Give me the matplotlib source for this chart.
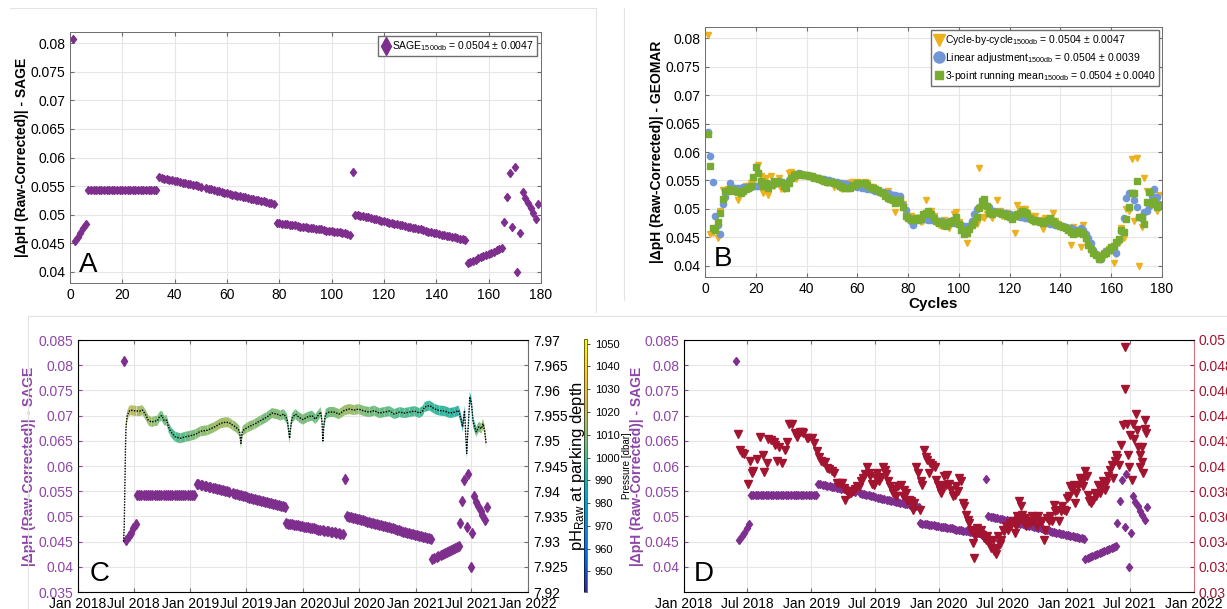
import numpy as np
import matplotlib.pyplot as plt
import matplotlib.dates as mdates
from matplotlib.collections import PolyCollection
from matplotlib.colors import LinearSegmentedColormap, Normalize
from matplotlib.cm import ScalarMappable
from matplotlib.lines import Line2D
from matplotlib.ticker import FuncFormatter

plt.rcParams['font.family'] = ['Liberation Sans', 'DejaVu Sans']
plt.rcParams['mathtext.fontset'] = 'custom'
plt.rcParams['mathtext.rm'] = 'Liberation Sans'
plt.rcParams['mathtext.it'] = 'Liberation Sans:italic'
plt.rcParams['mathtext.bf'] = 'Liberation Sans:bold'

# ---- data ------------------------------------------------------------
cycles = np.arange(1, 180)

# days since 2018-01-01 of each profile (cycle)
cycle_day = [150, 157, 165, 172, 180, 187,
             191, 198, 205, 213, 220, 227, 234, 241, 249, 256, 263, 270, 278, 285, 292, 299, 306, 314,
             321, 328, 335, 342, 349, 357, 364, 371, 378,
             385, 391, 398, 404, 411, 417, 424, 430, 437, 444, 450, 457, 463, 470, 476, 483, 489, 496,
             503, 509, 516, 522, 529, 535, 542, 548, 555, 561, 568, 574, 581, 588, 594, 601, 607, 614,
             620, 627, 633, 640, 647, 653, 660, 666, 673,
             676, 683, 689, 696, 702, 709, 715, 722, 728, 735, 741, 748, 754, 761, 767, 774, 780, 787,
             794, 800, 807, 813, 820, 826, 833, 839, 846, 852, 859,
             866,
             872, 879, 885, 892, 898, 905, 911, 918, 924, 931, 937, 944, 950, 957, 963, 970, 976, 983,
             989, 996, 1002, 1009, 1015, 1022, 1028, 1035, 1041, 1048, 1054, 1061, 1067, 1074, 1080,
             1087, 1093, 1100, 1106, 1113, 1119, 1126, 1132, 1139, 1145,
             1150, 1157, 1164, 1170, 1177, 1184, 1191, 1198, 1204, 1211, 1218, 1225, 1231, 1238,
             1240, 1248, 1254, 1262, 1266, 1275, 1280, 1287, 1293, 1300, 1307, 1313, 1320, 1327]

# |dpH| SAGE, units of 1e-4
sage = [808, 453, 461, 468, 476, 484,
        543, 543, 543, 543, 543, 543, 543, 543, 543, 543, 543, 543, 543, 543, 543, 543, 543, 543,
        543, 543, 543, 543, 543, 543, 543, 543, 543,
        565, 564, 563, 562, 561, 560, 559, 558, 557, 556, 555, 554, 553, 552, 551, 550, 549, np.nan,
        546, 545, 544, 543, 542, 541, 540, 538, 537, 536, 535, 534, 533, 532, 531, 530, 529, 528,
        527, 526, 525, 524, 523, 522, 521, 520, 518,
        486, 485, 484, 484, 483, 482, 482, 481, 480, 479, 479, 478, 477, 477, 476, 475, 474, 474,
        473, 472, 472, 471, 470, 469, 469, 468, 467, 466, 465,
        574,
        500, 499, 498, 497, 496, 495, 494, 493, 492, 491, 489, 488, 487, 486, 485, 484, 483, 482,
        481, 480, 479, 478, 477, 476, 475, 474, 473, 471, 470, 469, 468, 467, 466, 465, 464, 463,
        462, 461, 460, 459, 458, 457, 455,
        415, 417, 419, 421, 423, 425, 427, 429, 431, 433, 435, 437, 439, 441,
        487, 530, 572, 478, 584, 400, 467, 540, 529, 521, 511, 502, 493, 519]

# GEOMAR methods, units of 1e-4
cycle_by_cycle = [806, 456, 458, 465, 449, 496, 533, 530, 534, 540,
                  536, 530, 516, 528, 536, 540, 541, 545, 548, 574,
                  577, 557, 527, 555, 525, 557, 541, 546, 555, 535,
                  535, 541, 563, 565, 555, 553, 560, 561, 560, 558,
                  557, 556, 555, 554, 552, 550, 548, 546, 547, 545,
                  539, 541, 537, 535, 540, 545, 545, 548, 546, 548,
                  546, 543, 548, 545, 537, 538, 535, 531, 527, 524,
                  525, 531, 515, 516, 494, 512, 519, 508, 485, 480,
                  487, 473, 478, 484, 476, 478, 516, 485, 496, 487,
                  475, 472, 470, 480, 470, 466, 478, 490, 494, 476,
                  470, 465, 440, 468, 470, 474, 473, 572, 485, 483,
                  490, 493, 483, 494, 516, 496, 487, 493, 492, 485,
                  488, 458, 507, 497, 499, 499, 492, 487, 476, 488,
                  479, 481, 465, 483, 482, 480, 493, 478, 473, 470,
                  468, 466, 463, 437, 468, 463, 457, 432, 472, 444,
                  434, 428, 423, 418, 413, 418, 422, 425, 430, 426,
                  404, 421, 440, 466, 448, 500, 497, 588, 478, 589,
                  400, 468, 555, 532, 502, 521, 512, 496, 524]
linear_adj = [636, 593, 548, 488, 471, 456, 508, 521, 532, 546,
              536, 536, 537, 537, 538, 538, 539, 539, 540, 540,
              541, 541, 542, 542, 543, 543, 544, 548, 549, 547,
              543, 546, 550, 554, 557, 560, 563, 561, 560, 559,
              558, 557, 556, 555, 554, 553, 552, 551, 550, 549,
              548, 547, 546, 545, 544, 543, 542, 541, 540, 539,
              538, 537, 536, 535, 534, 533, 532, 531, 530, 529,
              528, 527, 526, 525, 524, 523, 522, 506, 498, 485,
              478, 471, 484, 483, 483, 482, 482, 481, 480, 480,
              479, 479, 478, 477, 477, 476, 476, 475, 475, 474,
              472, 470, 469, 470, 479, 490, 499, 504, 507, 506,
              505, 503, 497, 496, 495, 494, 493, 492, 491, 490,
              489, 488, 487, 486, 485, 484, 483, 482, 481, 480,
              479, 478, 477, 476, 475, 474, 473, 472, 471, 470,
              469, 468, 467, 466, 465, 462, 463, 466, 462, 456,
              448, 440, 428, 420, 411, 411, 422, 425, 427, 430,
              432, 422, 445, 461, 483, 519, 528, 527, 515, 504,
              485, 483, 494, 496, 505, 522, 535, 520, 508]
running_mean = [632, 575, 467, 463, 476, 493, 518, 531, 532, 535,
                533, 531, 530, 528, 532, 534, 536, 540, 556, 574,
                563, 549, 540, 545, 537, 542, 549, 546, 548, 548,
                540, 537, 545, 555, 559, 561, 562, 559, 560, 559,
                557, 557, 555, 554, 553, 551, 549, 548, 548, 547,
                545, 543, 541, 539, 537, 536, 537, 540, 542, 545,
                545, 546, 546, 542, 539, 537, 535, 533, 530, 528,
                522, 519, 518, 516, 510, 512, 515, 504, 488, 483,
                482, 480, 483, 481, 484, 490, 493, 496, 490, 484,
                478, 475, 476, 472, 470, 475, 478, 481, 485, 474,
                462, 455, 457, 465, 472, 476, 485, 502, 514, 517,
                505, 493, 491, 494, 495, 493, 491, 490, 487, 485,
                482, 487, 491, 493, 497, 494, 490, 484, 481, 479,
                478, 477, 475, 479, 481, 483, 478, 475, 472, 470,
                468, 466, 463, 460, 456, 458, 461, 460, 456, 448,
                437, 430, 423, 418, 412, 416, 420, 423, 427, 433,
                435, 442, 447, 462, 459, 482, 503, 528, 528, 549,
                486, 486, 473, 512, 530, 509, 513, 503, 507]

# pH raw at parking depth (days since 2018-01-01, pH, pressure dbar)
ph_day = [148, 150, 152, 154, 156, 160, 165, 170, 179, 190, 201, 209, 215, 221, 228, 239, 248, 258,
          264, 272, 280, 288, 294, 300, 305, 316, 332, 349, 365, 382, 398, 420, 442, 464, 480, 491,
          502, 513, 524, 527, 529, 532, 535, 551, 573, 592, 613, 630, 646, 657, 668, 679, 684, 687,
          690, 695, 706, 717, 730, 744, 760, 771, 783, 788, 792, 795, 798, 804, 815, 831, 848, 864,
          880, 897, 911, 929, 946, 962, 978, 995, 1011, 1027, 1044, 1060, 1076, 1093, 1109, 1120,
          1125, 1142, 1158, 1174, 1191, 1207, 1223, 1236, 1243, 1249, 1255, 1259, 1262, 1265, 1268,
          1272, 1277, 1283, 1293, 1302, 1310, 1315, 1320, 1325]
ph_val = [7.9300, 7.9330, 7.9400, 7.9480, 7.9530, 7.9550, 7.9558, 7.9561, 7.9560, 7.9559, 7.9559,
          7.9561, 7.9556, 7.9550, 7.9541, 7.9537, 7.9539, 7.9540, 7.9547, 7.9550, 7.9540, 7.9541,
          7.9527, 7.9520, 7.9515, 7.9508, 7.9505, 7.9508, 7.9510, 7.9513, 7.9519, 7.9521, 7.9527,
          7.9535, 7.9537, 7.9536, 7.9531, 7.9527, 7.9520, 7.9505, 7.9495, 7.9512, 7.9520, 7.9527,
          7.9533, 7.9540, 7.9547, 7.9555, 7.9553, 7.9550, 7.9553, 7.9543, 7.9520, 7.9505, 7.9525,
          7.9545, 7.9553, 7.9547, 7.9542, 7.9547, 7.9550, 7.9543, 7.9553, 7.9557, 7.9540, 7.9500,
          7.9530, 7.9553, 7.9557, 7.9557, 7.9553, 7.9560, 7.9563, 7.9561, 7.9563, 7.9559, 7.9557,
          7.9560, 7.9555, 7.9557, 7.9559, 7.9553, 7.9557, 7.9555, 7.9557, 7.9559, 7.9555, 7.9560,
          7.9567, 7.9570, 7.9563, 7.9560, 7.9559, 7.9555, 7.9557, 7.9560, 7.9544, 7.9528, 7.9560,
          7.9510, 7.9475, 7.9510, 7.9540, 7.9587, 7.9577, 7.9537, 7.9518, 7.9528, 7.9524, 7.9534,
          7.9521, 7.9495]
ph_pres = [995, 1008, 1012, 1015, 1015, 1016, 1018, 1018, 1018, 1016, 1015, 1015, 1012, 1010, 1012,
           1014, 1010, 1008,
           1006, 1004, 1006, 1006, 1004, 1000, 1000, 1000, 1002, 1004, 1006, 1008, 1010, 1010, 1012,
           1014, 1014, 1014,
           1012, 1010, 1010, 1006, 1006, 1008, 1010, 1010, 1010, 1008, 1006, 1008, 1010, 1008, 1006,
           1004, 1002, 1004,
           1004, 1006, 1006, 1006, 1008, 1006, 1006, 1004, 1006, 1008, 1002, 1000, 1002, 1004, 1006,
           1008, 1010, 1012,
           1014, 1012, 1010, 1008, 1006, 1006, 1004, 1004, 1004, 1002, 1002, 1000, 1000, 1000, 1000,
           998,
           998, 998, 996, 996, 996, 995, 994, 992, 990, 990, 985, 992, 992, 996, 992,
           988, 990, 996, 1002, 1008, 1010, 1012, 1015, 1018]

# Panel D red triangles (days since 2018-01-01, value in 1e-5)
red_day = [155, 161, 167, 173, 182, 189, 196, 198, 208, 218, 225, 230, 237, 242, 249, 257, 261, 267,
           273, 281, 288, 296, 302, 308, 317, 323, 332, 337, 341, 351, 356, 366, 371, 380, 387, 393,
           397, 403, 410, 416, 424, 430, 439, 446, 453, 458, 461, 466, 473, 479, 484, 490, 495, 502,
           508, 514, 518, 523, 529, 533, 539, 545, 549, 553, 558, 564, 570, 575, 580, 585,
           591, 599, 604, 608, 614, 621, 626, 631, 636, 640, 645, 650, 655, 660, 665, 670, 675, 679,
           681, 687, 692, 696, 701, 706, 711, 718, 723, 728, 733, 736, 741, 746, 750, 754, 760, 765,
           770, 775, 780, 785, 789, 794, 799, 803, 809, 813, 817, 821, 826, 828, 830, 835, 840, 845,
           850, 855, 860, 864, 869, 874, 879, 884, 889, 894, 897, 900, 904, 908, 913, 918, 923, 928,
           933, 937, 942, 947, 950, 953, 957, 961, 965, 969, 972, 976, 981, 986, 991, 996, 1001, 1006,
           1011, 1015, 1020, 1025, 1030, 1035, 1040, 1045, 1049, 1054, 1059, 1064, 1069, 1074, 1079,
           1083, 1088, 1093, 1098, 1103, 1106, 1111, 1116, 1121, 1124, 1128, 1133, 1137, 1142, 1145,
           1150, 1155, 1157, 1161, 1166, 1171, 1176, 1181, 1186, 1191, 1195, 1200, 1205, 1210, 1215,
           1220, 1225, 1230, 1235, 1237, 1241, 1247, 1252,
           1259, 1262, 1263, 1268, 1271, 1275, 1278, 1283, 1287, 1290, 1294, 1299, 1302, 1305, 1307,
           1311, 1313, 1316, 1320, 1322, 1324]
red_val = [4254, 4128, 4101, 4096, 3856, 4036, 3943, 3962, 4054, 4228, 4086, 3949, 4022, 4215, 4207,
           4194, 4167, 4036, 4154, 4022, 4128, 4191, 4333, 4333, 4265, 4228, 4273, 4267, 4260, 4220,
           4220, 4220, 4186, 4123, 4075, 4043, 4028, 4028, 3983, 3975, 3957, 3943, 3864, 3864, 3864,
           3825, 3727, 3798, 3780, 3785, 3798, 3817, 3838, 3833, 3877, 3901, 3938, 3991, 3943, 3917,
           3859, 3851, 3904, 3943, 3877, 3909, 3991, 3970, 3935, 3877,
           3838, 3785, 3817, 3759, 3838, 3851, 3759, 3812, 3785, 3719, 3727, 3719, 3654, 3706, 3996,
           3943, 3654, 3877, 3851, 4128, 4075, 4049, 3943, 4022, 4009, 3996, 3891, 3851, 3812, 3785,
           3838, 3917, 3851, 3930, 3859, 3812, 3759, 3772, 3838, 3798, 3904, 3877, 3706, 3680, 3614,
           3574, 3548, 3495, 3482, 3390, 3271, 3443, 3509, 3469, 3495, 3456, 3430, 3416, 3443, 3390,
           3350, 3416, 3324, 3298, 3350, 3443, 3377, 3416, 3495, 3482, 3522, 3495, 3548, 3535, 3561,
           3469, 3522, 3601, 3574, 3719, 3680, 3614, 3561, 3588, 3522, 3561, 3548, 3601, 3561, 3574,
           3522, 3601, 3561, 3561, 3416, 3495, 3588, 3561, 3601, 3561, 3693, 3640, 3654, 3561, 3640,
           3680, 3654, 3640, 3746, 3759, 3838, 3812, 3851, 3706, 3785, 3838, 3904, 3877, 3838, 3904,
           3957, 3917, 3772, 3719, 3706, 3733, 3785, 3759, 3851, 3785, 3838, 3877, 3812, 3864, 3917,
           3970, 4009, 3904, 4036, 4088, 4062, 4009, 4167,
           4324, 4947, 4608, 4337, 4087, 3995, 4245, 3889, 4337, 4218, 4410, 4284, 4153, 4087, 3995,
           4153, 4034, 3942, 4363, 4297, 4258]

# ---- conversions -------------------------------------------------------
base = np.datetime64('2018-01-01')
def to_date(days):
    return base + np.array(days).astype('timedelta64[D]')

sage_v = np.array(sage, dtype=float) / 1e4
cbc_v = np.array(cycle_by_cycle) / 1e4
lin_v = np.array(linear_adj) / 1e4
rm_v = np.array(running_mean) / 1e4
cyc_dates = to_date(cycle_day)
ph_dates = to_date(ph_day)
red_dates = to_date(red_day)
red_v = np.array(red_val) / 1e5

# ---- style ----------------------------------------------------------------
PURPLE = '#7E2F8E'
PURPLE_TXT = '#8E44A8'
ORANGE = '#EDB120'
BLUE = '#7297D6'
GREEN = '#77AC30'
RED = '#A2142F'
GRID = '#E6E6E6'
BOX = '#6E6E6E'

parula = LinearSegmentedColormap.from_list('parula', [
    (0.2081, 0.1663, 0.5292), (0.0117, 0.3875, 0.8820), (0.0793, 0.5200, 0.8312),
    (0.0228, 0.6535, 0.7768), (0.2178, 0.7250, 0.6193), (0.5709, 0.7485, 0.4494),
    (0.8507, 0.7299, 0.3360), (0.9880, 0.8066, 0.1794), (0.9763, 0.9831, 0.0538)])

W, H = 1227, 609
fig = plt.figure(figsize=(W / 100, H / 100), dpi=100)

def px_axes(l, t, r, b):
    return fig.add_axes([l / W, 1 - b / H, (r - l) / W, (b - t) / H])

gfmt = FuncFormatter(lambda v, p: f'{v:g}')
ylab = '|ΔpH (Raw-Corrected)| - '

def style(ax, fs=10):
    ax.grid(True, color=GRID, lw=0.8)
    ax.set_axisbelow(True)
    for s in ax.spines.values():
        s.set_color(BOX)
        s.set_linewidth(0.7)
    ax.tick_params(direction='in', length=3, labelsize=fs, color=BOX)

# ---- panel A -------------------------------------------------------------
axA = px_axes(70, 32, 541, 283)
style(axA)
axA.plot(cycles, sage_v, ls='none', marker='d', ms=4.5, color=PURPLE)
axA.set_xlim(0, 180)
axA.set_ylim(0.038, 0.082)
axA.set_xticks(np.arange(0, 181, 20))
axA.set_yticks(np.arange(0.04, 0.0801, 0.005))
axA.yaxis.set_major_formatter(gfmt)
axA.tick_params(top=True, right=True)
axA.set_ylabel(ylab + 'SAGE', fontsize=10, fontweight='bold', labelpad=1)
axA.text(0.02, 0.02, 'A', transform=axA.transAxes, fontsize=20, va='bottom')
hA = [Line2D([], [], ls='none', marker='d', ms=9, color=PURPLE)]
axA.legend(hA, [r'SAGE$_{\mathrm{1500db}}$ = 0.0504 ± 0.0047'], loc='upper right',
           fontsize=7.5, handlelength=0.8, handletextpad=0.2, borderpad=0.3,
           fancybox=False, edgecolor=BOX, framealpha=1, borderaxespad=0.4)

# ---- panel B -------------------------------------------------------------
axB = px_axes(705, 27, 1162, 277)
style(axB)
axB.plot(cycles, cbc_v, ls='none', marker='v', ms=5, color=ORANGE)
axB.plot(cycles, lin_v, ls='none', marker='o', ms=4.5, color=BLUE)
axB.plot(cycles, rm_v, ls='none', marker='s', ms=3.8, color=GREEN)
axB.set_xlim(0, 180)
axB.set_ylim(0.038, 0.082)
axB.set_xticks(np.arange(0, 181, 20))
axB.set_yticks(np.arange(0.04, 0.0801, 0.005))
axB.yaxis.set_major_formatter(gfmt)
axB.tick_params(top=True, right=True)
axB.set_ylabel(ylab + 'GEOMAR', fontsize=10, fontweight='bold', labelpad=1)
axB.set_xlabel('Cycles', fontsize=11, fontweight='bold', labelpad=1)
axB.text(0.02, 0.02, 'B', transform=axB.transAxes, fontsize=20, va='bottom')
hB = [Line2D([], [], ls='none', marker='v', ms=9, color=ORANGE),
      Line2D([], [], ls='none', marker='o', ms=8, color=BLUE),
      Line2D([], [], ls='none', marker='s', ms=6, color=GREEN)]
axB.legend(hB, [r'Cycle-by-cycle$_{\mathrm{1500db}}$ = 0.0504 ± 0.0047',
                r'Linear adjustment$_{\mathrm{1500db}}$ = 0.0504 ± 0.0039',
                r'3-point running mean$_{\mathrm{1500db}}$ = 0.0504 ± 0.0040'],
           loc='upper right', fontsize=7.5, handlelength=0.8, handletextpad=0.2,
           borderpad=0.3, labelspacing=0.35, fancybox=False, edgecolor=BOX,
           framealpha=1, borderaxespad=0.3)

# ---- date axes helper ---------------------------------------------------
date_ticks = to_date([0, 181, 365, 546, 730, 912, 1096, 1277, 1461])

def date_axis(ax):
    ax.set_xlim(date_ticks[0], date_ticks[-1])
    ax.set_xticks(date_ticks)
    ax.xaxis.set_major_formatter(mdates.DateFormatter('%b %Y'))

# ---- panel C -------------------------------------------------------------
axC = px_axes(78, 340, 528, 592)
style(axC)
axC.plot(cyc_dates, sage_v, ls='none', marker='d', ms=5, color=PURPLE)
date_axis(axC)
axC.set_ylim(0.035, 0.085)
axC.set_yticks(np.arange(0.035, 0.0851, 0.005))
axC.yaxis.set_major_formatter(gfmt)
axC.tick_params(axis='y', colors=PURPLE_TXT)
axC.tick_params(top=True)
axC.spines['left'].set_color('#B98CC6')
axC.set_ylabel(ylab + 'SAGE', fontsize=10, fontweight='bold', color=PURPLE_TXT, labelpad=2)
axC.text(0.025, 0.02, 'C', transform=axC.transAxes, fontsize=20, va='bottom')

axC2 = axC.twinx()
norm = Normalize(941, 1052)
xn = mdates.date2num(ph_dates)
yv = np.array(ph_val)
half = 0.001
quads = [[(xn[i], yv[i] - half), (xn[i + 1], yv[i + 1] - half),
          (xn[i + 1], yv[i + 1] + half), (xn[i], yv[i] + half)] for i in range(len(xn) - 1)]
pres = np.array(ph_pres, dtype=float)
band = PolyCollection(quads, facecolors=parula(norm(0.5 * (pres[:-1] + pres[1:]))),
                      edgecolors='none', linewidths=0)
axC2.add_collection(band)
axC2.plot(ph_dates, ph_val, color='k', lw=1.0, ls=(0, (1, 1)))
axC2.set_ylim(7.92, 7.97)
axC2.set_yticks(np.arange(7.92, 7.9701, 0.005))
axC2.yaxis.set_major_formatter(gfmt)
axC2.tick_params(direction='in', length=3, labelsize=10, color=BOX)
axC2.spines['right'].set_color(BOX)
axC2.set_ylabel(r'pH$_{\mathrm{Raw}}$ at parking depth', fontsize=12, labelpad=0)
date_axis(axC2)

cax = px_axes(584, 339, 587, 592)
cb = fig.colorbar(ScalarMappable(norm=norm, cmap=parula), cax=cax)
cb.set_ticks(np.arange(950, 1051, 10))
cb.outline.set_linewidth(0.4)
cax.tick_params(labelsize=8, length=2, width=0.5)
cb.set_label('Pressure [dbar]', fontsize=7, labelpad=2)

# ---- panel D -------------------------------------------------------------
axD = px_axes(684, 340, 1194, 592)
style(axD)
axD.plot(cyc_dates, sage_v, ls='none', marker='d', ms=4.5, color=PURPLE)
date_axis(axD)
axD.set_ylim(0.035, 0.085)
axD.set_yticks(np.arange(0.04, 0.0851, 0.005))
axD.yaxis.set_major_formatter(gfmt)
axD.tick_params(axis='y', colors=PURPLE_TXT)
axD.tick_params(top=True)
axD.spines['left'].set_color('#B98CC6')
axD.set_ylabel(ylab + 'SAGE', fontsize=10, fontweight='bold', color=PURPLE_TXT, labelpad=0)
axD.text(0.02, 0.02, 'D', transform=axD.transAxes, fontsize=20, va='bottom')

axD2 = axD.twinx()
axD2.plot(red_dates, red_v, ls='none', marker='v', ms=5.5, color=RED)
axD2.set_ylim(0.03, 0.05)
axD2.set_yticks(np.arange(0.03, 0.0501, 0.002))
axD2.yaxis.set_major_formatter(gfmt)
axD2.tick_params(direction='in', length=3, labelsize=10, colors=RED)
axD2.spines['right'].set_color('#D07080')
date_axis(axD2)

# faint frames of the original composite
for (x0, y0, x1, y1) in [(10, 8, 596, 8), (596, 8, 596, 312), (624, 8, 624, 300),
                         (28, 316, 1227, 316), (28, 316, 28, 609)]:
    fig.add_artist(Line2D([x0 / W, x1 / W], [1 - y0 / H, 1 - y1 / H],
                          transform=fig.transFigure, color='#E3E3E3', lw=0.8))

fig.savefig('out.png', dpi=100)
